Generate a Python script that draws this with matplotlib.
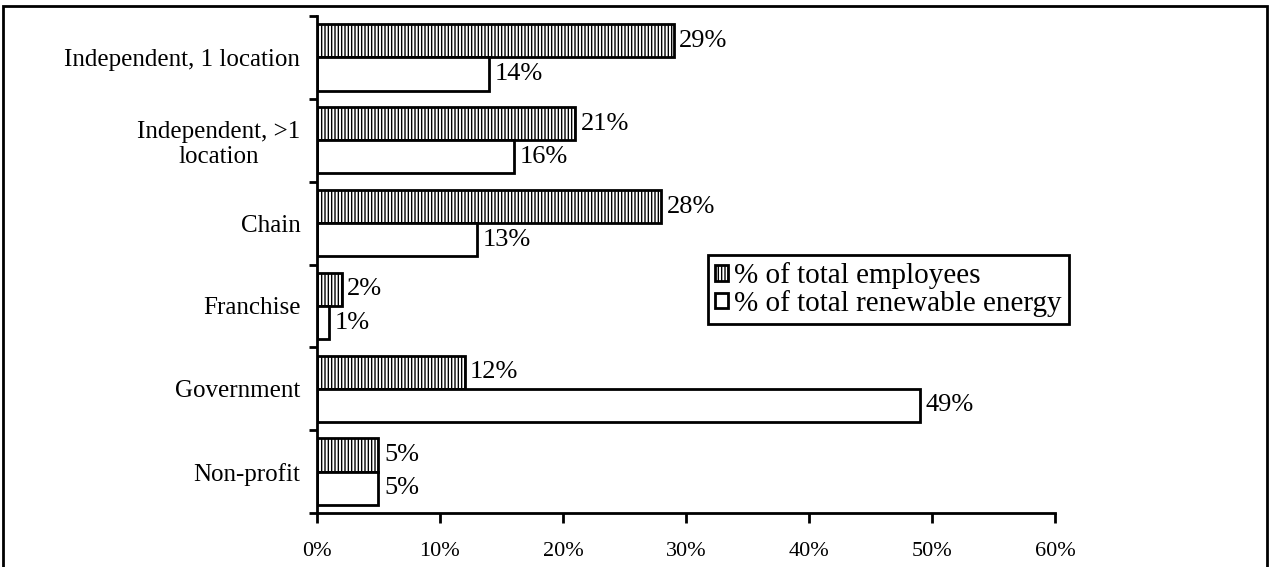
import numpy as np
import matplotlib.pyplot as plt
from matplotlib.patches import Rectangle

categories = ["Independent, 1 location", "Independent, >1\nlocation", "Chain",
              "Franchise", "Government", "Non-profit"]
employees = [29, 21, 28, 2, 12, 5]
renewable = [14, 16, 13, 1, 49, 5]

plt.rcParams['font.family'] = ['Liberation Serif', 'DejaVu Serif']
plt.rcParams['hatch.linewidth'] = 1.0

fig = plt.figure(figsize=(12.71, 5.67), dpi=100)
ax = fig.add_axes([0.2494, 0.0952, 0.5806, 0.8765])

y = np.arange(len(categories))
h = 0.4
b1 = ax.barh(y - h / 2, employees, height=h, color='white', edgecolor='black',
             linewidth=2, hatch='|||||', label='% of total employees')
b2 = ax.barh(y + h / 2, renewable, height=h, color='white', edgecolor='black',
             linewidth=2, label='% of total renewable energy')

for bars, vals in ((b1, employees), (b2, renewable)):
    for bar, v in zip(bars, vals):
        ax.annotate(f"{v}%", (bar.get_width(), bar.get_y() + bar.get_height() / 2),
                    xytext=(4, 0), textcoords='offset points',
                    va='center', ha='left', fontsize=19)

ax.set_xlim(0, 60)
ax.set_ylim(len(categories) - 0.5, -0.5)
ax.set_xticks(range(0, 61, 10))
ax.set_xticklabels([f"{t}%" for t in range(0, 61, 10)], fontsize=16)
ax.set_yticks(y)
ax.set_yticklabels(categories, fontsize=18, ha='right', multialignment='center')
ax.set_yticks(np.arange(-0.5, len(categories), 1), minor=True)
ax.tick_params(axis='y', which='major', length=0, pad=12)
ax.tick_params(axis='y', which='minor', length=6, width=2, direction='out')
ax.tick_params(axis='x', which='major', length=7, width=2, direction='out', pad=14)

for s in ('top', 'right'):
    ax.spines[s].set_visible(False)
for s in ('left', 'bottom'):
    ax.spines[s].set_linewidth(2)

leg = ax.legend(loc='upper left', bbox_to_anchor=(708 / 1271, 1 - 255 / 567),
                bbox_transform=fig.transFigure, borderaxespad=0, fontsize=21,
                frameon=True, fancybox=False, edgecolor='black', framealpha=1,
                handlelength=0.45, handleheight=0.45, handletextpad=0.2,
                borderpad=0.25, labelspacing=0.02)
leg.get_frame().set_linewidth(2)

# outer frame round the whole chart
fig.patches.append(Rectangle((0.002, -0.05), 0.995, 1.039, transform=fig.transFigure,
                             fill=False, edgecolor='black', linewidth=2))

fig.savefig('out.png', dpi=100)
